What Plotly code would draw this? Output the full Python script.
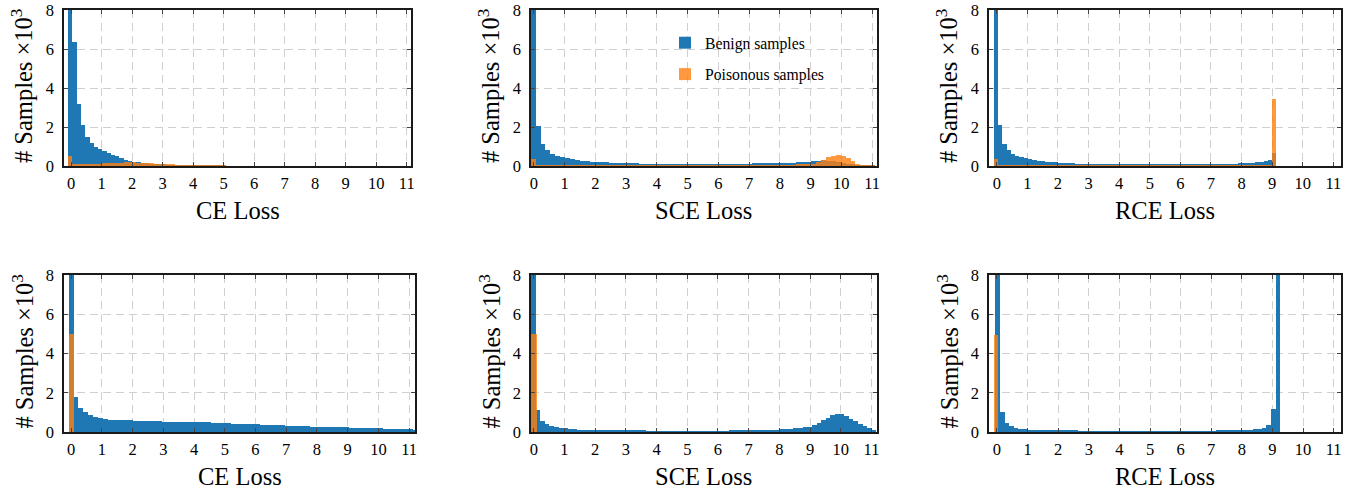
import plotly.graph_objects as go

# ---------------- data (counts in thousands) ----------------
x_ticks = [0, 1, 2, 3, 4, 5, 6, 7, 8, 9, 10, 11]
y_ticks = [0, 2, 4, 6, 8]
x_titles = ["CE Loss", "SCE Loss", "RCE Loss", "CE Loss", "SCE Loss", "RCE Loss"]
legend_names = ["Benign samples", "Poisonous samples"]

# bin start / bin width of each histogram (loss units)
benign_bin_start = [-0.1, -0.1, -0.1, -0.08, -0.09, -0.05]
benign_bin_width = [0.14, 0.16, 0.14, 0.16, 0.15, 0.15]
poison_bin_start = [-0.1, -0.1, -0.1, -0.08, -0.09, -0.1]
poison_bin_width = [0.14, 0.16, 0.14, 0.19, 0.19, 0.14]

ce_top_benign = [12, 6.34, 3.18, 2.09, 1.5, 1.2, 0.98, 0.85, 0.75, 0.66,
                 0.57, 0.49, 0.41, 0.33, 0.26, 0.22, 0.19, 0.16, 0.14, 0.12,
                 0.1, 0.08, 0.06, 0.045, 0.035, 0.025, 0.02, 0.015, 0.012, 0.01,
                 0.008, 0.007, 0.006, 0.005, 0.004, 0.003, 0.002]
ce_top_poison = [0.5, 0.1, 0.1, 0.1, 0.1, 0.11, 0.11, 0.12, 0.13, 0.14,
                 0.15, 0.16, 0.17, 0.18, 0.18, 0.18, 0.17, 0.16, 0.15, 0.14,
                 0.12, 0.1, 0.08, 0.07, 0.06, 0.05, 0.04, 0.03, 0.025, 0.02,
                 0.015, 0.012, 0.01, 0.008, 0.006, 0.004, 0.003]

sce_top_benign = [12, 2.05, 1.15, 0.8, 0.6, 0.51, 0.46, 0.41, 0.36, 0.32,
                  0.28, 0.25, 0.22, 0.2, 0.19, 0.18, 0.17, 0.16, 0.15, 0.14,
                  0.13, 0.13, 0.12, 0.12, 0.12, 0.11, 0.11, 0.11, 0.1, 0.1,
                  0.1, 0.1, 0.1, 0.1, 0.1, 0.1, 0.1, 0.11, 0.11, 0.11,
                  0.11, 0.11, 0.12, 0.12, 0.12, 0.13, 0.13, 0.13, 0.14, 0.14,
                  0.15, 0.15, 0.16, 0.17, 0.18, 0.19, 0.21, 0.24, 0.27, 0.3,
                  0.28, 0.25, 0.2, 0.15, 0.1, 0.07, 0.05, 0.03, 0.02, 0.01]
sce_top_poison = [0.35, 0.01, 0.01, 0.01, 0.01, 0.01, 0.01, 0.01, 0.01, 0.01,
                  0.01, 0.01, 0.01, 0.01, 0.01, 0.01, 0.01, 0.01, 0.01, 0.01,
                  0.01, 0.01, 0.01, 0.01, 0.01, 0.01, 0.01, 0.01, 0.01, 0.01,
                  0.01, 0.01, 0.01, 0.01, 0.01, 0.01, 0.01, 0.01, 0.01, 0.01,
                  0.01, 0.01, 0.01, 0.01, 0.01, 0.01, 0.01, 0.01, 0.01, 0.01,
                  0.02, 0.03, 0.04, 0.05, 0.06, 0.07, 0.08, 0.1, 0.18, 0.3,
                  0.45, 0.53, 0.55, 0.5, 0.4, 0.25, 0.1, 0.04, 0.01, 0.005]

rce_top_benign = [12, 2.1, 1.15, 0.8, 0.6, 0.52, 0.45, 0.4, 0.35, 0.3,
                  0.27, 0.24, 0.22, 0.2, 0.18, 0.16, 0.15, 0.14, 0.13, 0.12,
                  0.12, 0.11, 0.1, 0.1, 0.1, 0.09, 0.09, 0.09, 0.09, 0.08,
                  0.08, 0.08, 0.08, 0.08, 0.08, 0.08, 0.08, 0.08, 0.08, 0.08,
                  0.08, 0.08, 0.08, 0.08, 0.08, 0.08, 0.09, 0.09, 0.09, 0.09,
                  0.1, 0.1, 0.1, 0.11, 0.11, 0.12, 0.12, 0.13, 0.14, 0.15,
                  0.17, 0.19, 0.22, 0.26, 0.32, 0.68]
rce_top_poison = [0.35, 0.01, 0.01, 0.01, 0.01, 0.01, 0.01, 0.01, 0.01, 0.01,
                  0.01, 0.01, 0.01, 0.01, 0.01, 0.01, 0.01, 0.01, 0.01, 0.01,
                  0.01, 0.01, 0.01, 0.01, 0.01, 0.01, 0.01, 0.01, 0.01, 0.01,
                  0.01, 0.01, 0.01, 0.01, 0.01, 0.01, 0.01, 0.01, 0.01, 0.01,
                  0.01, 0.01, 0.01, 0.01, 0.01, 0.01, 0.01, 0.01, 0.01, 0.01,
                  0.01, 0.01, 0.01, 0.01, 0.01, 0.01, 0.01, 0.02, 0.02, 0.02,
                  0.03, 0.03, 0.04, 0.04, 0.05, 3.42]

ce_bot_benign = [12, 1.8, 1.2, 1.0, 0.85, 0.78, 0.7, 0.66, 0.63, 0.62,
                 0.61, 0.6, 0.59, 0.58, 0.57, 0.57, 0.56, 0.55, 0.54, 0.53,
                 0.53, 0.52, 0.52, 0.53, 0.52, 0.52, 0.51, 0.5, 0.49, 0.47,
                 0.46, 0.45, 0.44, 0.43, 0.43, 0.42, 0.41, 0.4, 0.39, 0.38,
                 0.38, 0.37, 0.36, 0.35, 0.33, 0.33, 0.32, 0.31, 0.3, 0.28,
                 0.27, 0.27, 0.26, 0.25, 0.25, 0.24, 0.23, 0.22, 0.21, 0.21,
                 0.2, 0.2, 0.19, 0.18, 0.17, 0.17, 0.16, 0.15, 0.14, 0.13,
                 0.12]
ce_bot_poison = [5.0]

sce_bot_benign = [12, 1.1, 0.55, 0.4, 0.32, 0.26, 0.22, 0.18, 0.16, 0.14,
                  0.12, 0.11, 0.1, 0.09, 0.08, 0.08, 0.07, 0.07, 0.07, 0.06,
                  0.06, 0.06, 0.06, 0.06, 0.06, 0.05, 0.05, 0.05, 0.05, 0.05,
                  0.05, 0.05, 0.05, 0.05, 0.05, 0.05, 0.05, 0.05, 0.05, 0.05,
                  0.05, 0.05, 0.05, 0.06, 0.06, 0.06, 0.07, 0.07, 0.08, 0.08,
                  0.09, 0.1, 0.11, 0.12, 0.13, 0.15, 0.17, 0.19, 0.21, 0.24,
                  0.27, 0.35, 0.48, 0.6, 0.72, 0.85, 0.94, 0.93, 0.82, 0.68,
                  0.55, 0.43, 0.31, 0.21, 0.12]
sce_bot_poison = [5.0]

rce_bot_benign = [12, 1.0, 0.45, 0.3, 0.22, 0.17, 0.14, 0.12, 0.11, 0.1,
                  0.09, 0.08, 0.08, 0.07, 0.07, 0.06, 0.06, 0.06, 0.05, 0.05,
                  0.05, 0.05, 0.05, 0.04, 0.04, 0.04, 0.04, 0.04, 0.04, 0.04,
                  0.04, 0.04, 0.04, 0.04, 0.04, 0.04, 0.04, 0.04, 0.04, 0.04,
                  0.04, 0.04, 0.04, 0.05, 0.05, 0.05, 0.05, 0.05, 0.06, 0.06,
                  0.06, 0.07, 0.07, 0.09, 0.1, 0.11, 0.13, 0.16, 0.22, 0.35,
                  1.15, 12]
rce_bot_poison = [4.95]

benign = [ce_top_benign, sce_top_benign, rce_top_benign,
          ce_bot_benign, sce_bot_benign, rce_bot_benign]
poison = [ce_top_poison, sce_top_poison, rce_top_poison,
          ce_bot_poison, sce_bot_poison, rce_bot_poison]

# ---------------- layout geometry (pixels) ----------------
W, H = 1354, 491
x_dom_px = [(64, 411), (531, 877), (989, 1341), (64, 415), (531, 877), (989, 1341)]
y_dom_px = [(10, 166)] * 3 + [(275, 432)] * 3
x_ranges = [(-0.236, 11.14), (-0.09, 11.16), (-0.255, 11.25),
            (-0.23, 11.19), (-0.09, 11.18), (-0.26, 11.24)]

BLUE = "#1f77b4"
ORANGE = "#ff7f0e"
FONT = "Liberation Serif, Times New Roman, serif"

fig = go.Figure()

for k in range(6):
    n = "" if k == 0 else str(k + 1)
    xa, ya = "x" + n, "y" + n
    b = benign[k]
    bx = [benign_bin_start[k] + benign_bin_width[k] * (i + 0.5) for i in range(len(b))]
    fig.add_trace(go.Bar(x=bx, y=b, width=benign_bin_width[k], xaxis=xa, yaxis=ya,
                         marker=dict(color=BLUE, line=dict(width=0)),
                         name=legend_names[0], legendgroup="g1",
                         showlegend=(k == 1)))
    p = poison[k]
    px_ = [poison_bin_start[k] + poison_bin_width[k] * (i + 0.5) for i in range(len(p))]
    fig.add_trace(go.Bar(x=px_, y=p, width=poison_bin_width[k], xaxis=xa, yaxis=ya,
                         marker=dict(color=ORANGE, line=dict(width=0)), opacity=0.8,
                         name=legend_names[1], legendgroup="g2",
                         showlegend=(k == 1)))

    common = dict(showline=True, linecolor="#1a1a1a", linewidth=1.5, mirror="ticks",
                  ticks="inside", ticklen=4, tickcolor="#444", tickwidth=1,
                  showgrid=True, gridcolor="#d0d0d0", griddash="8px,5px", gridwidth=1,
                  zeroline=False, automargin=False,
                  tickfont=dict(family=FONT, size=16.5, color="black"))
    fig.layout["xaxis" + n] = dict(
        domain=[x_dom_px[k][0] / W, x_dom_px[k][1] / W], anchor=ya,
        range=list(x_ranges[k]), tickvals=x_ticks, ticktext=[str(t) for t in x_ticks],
        ticklabelstandoff=1, **common)
    fig.layout["yaxis" + n] = dict(
        domain=[1 - y_dom_px[k][1] / H, 1 - y_dom_px[k][0] / H], anchor=xa,
        range=[0, 8], tickvals=y_ticks, ticktext=[str(t) for t in y_ticks],
        ticklabelstandoff=5, **common)

annotations = []
for k in range(6):
    xc = (x_dom_px[k][0] + x_dom_px[k][1]) / 2 / W
    yb = y_dom_px[k][1]
    annotations.append(dict(text=x_titles[k], x=xc, y=1 - (yb + 44) / H,
                            xref="paper", yref="paper", showarrow=False,
                            xanchor="center", yanchor="middle",
                            font=dict(family=FONT, size=24.5, color="black")))
    yc = (y_dom_px[k][0] + y_dom_px[k][1]) / 2
    annotations.append(dict(text="# Samples ×10<sup>3</sup>", x=(x_dom_px[k][0] - 42) / W,
                            y=1 - (yc - 2) / H, xref="paper", yref="paper", showarrow=False,
                            textangle=-90, xanchor="center", yanchor="middle",
                            font=dict(family=FONT, size=24.5, color="black")))

fig.update_layout(
    template="none",
    width=W, height=H, margin=dict(l=0, r=0, t=0, b=0, pad=0),
    paper_bgcolor="white", plot_bgcolor="white",
    barmode="overlay", bargap=0,
    annotations=annotations,
    legend=dict(x=665 / W, y=1 - 26 / H, xanchor="left", yanchor="top",
                bgcolor="rgba(0,0,0,0)", font=dict(family=FONT, size=15.7, color="black"),
                traceorder="grouped", tracegroupgap=8),
)

fig.write_html("out.html", config={"displayModeBar": False},
               post_script="document.body.style.margin='0';document.body.style.overflow='hidden';")
